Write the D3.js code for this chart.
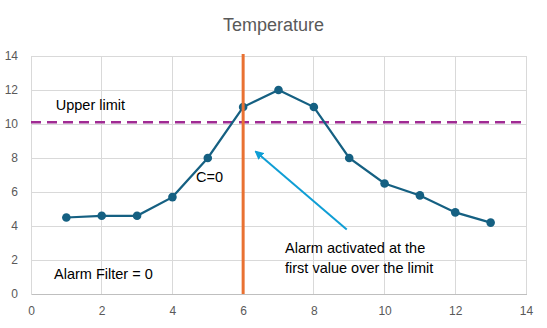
<!DOCTYPE html>
<html>
<head>
<meta charset="utf-8">
<script src="https://cdn.jsdelivr.net/npm/d3@7"></script>
<style>
  html, body { margin: 0; padding: 0; background: #fff; }
  svg { display: block; }
</style>
</head>
<body>
<div id="chart"></div>
<script>
// ---- data ----
const title = "Temperature";
const xValues = [1, 2, 3, 4, 5, 6, 7, 8, 9, 10, 11, 12, 13];
const temperature = [4.5, 4.6, 4.6, 5.7, 8, 11, 12, 11, 8, 6.5, 5.8, 4.8, 4.2];
const xTicks = [0, 2, 4, 6, 8, 10, 12, 14];
const yTicks = [0, 2, 4, 6, 8, 10, 12, 14];
const upperLimit = 10.1;
const alarmX = 6;
const labels = ["Upper limit", "C=0", "Alarm Filter = 0"];
const arrowNote = ["Alarm activated at the", "first value over the limit"];

// ---- layout ----
const W = 547, H = 328;
const m = { left: 31, right: 21, top: 56, bottom: 34 };
const font = "'Liberation Sans', Arial, sans-serif";

const svg = d3.select("#chart").append("svg").attr("width", W).attr("height", H);

const x = d3.scaleLinear().domain([0, 14]).range([m.left, W - m.right]);
const y = d3.scaleLinear().domain([0, 14]).range([H - m.bottom, m.top]);

// title
svg.append("text").attr("x", 273.5).attr("y", 31).attr("text-anchor", "middle")
  .attr("font-family", font).attr("font-size", 18).attr("fill", "#595959").text(title);

// grid
const g = svg.append("g");
g.selectAll(".hg").data(yTicks).join("line")
  .attr("x1", x(0)).attr("x2", x(14)).attr("y1", d => y(d)).attr("y2", d => y(d))
  .attr("stroke", "#D9D9D9").attr("stroke-width", 1).attr("shape-rendering", "crispEdges");
g.selectAll(".vg").data(xTicks).join("line")
  .attr("y1", y(0)).attr("y2", y(14)).attr("x1", d => x(d)).attr("x2", d => x(d))
  .attr("stroke", "#D9D9D9").attr("stroke-width", 1).attr("shape-rendering", "crispEdges");

// axes
const xAxis = svg.append("g").attr("transform", `translate(0,${y(0)})`)
  .call(d3.axisBottom(x).tickValues(xTicks).tickSize(0).tickPadding(12).tickFormat(d3.format("d")));
xAxis.select(".domain").attr("stroke", "#BFBFBF").attr("shape-rendering", "crispEdges");
const yAxis = svg.append("g").attr("transform", `translate(${x(0)},0)`)
  .call(d3.axisLeft(y).tickValues(yTicks).tickSize(0).tickPadding(13).tickFormat(d3.format("d")));
yAxis.select(".domain").remove();
svg.selectAll(".tick text").attr("font-family", font).attr("font-size", 12).attr("fill", "#595959");

// upper limit dashed line
svg.append("line")
  .attr("x1", x(0)).attr("x2", x(14)).attr("y1", y(upperLimit)).attr("y2", y(upperLimit))
  .attr("stroke", "#A02B93").attr("stroke-width", 2.5).attr("stroke-dasharray", "10,6");

// series line
const pts = xValues.map((v, i) => [v, temperature[i]]);
svg.append("path").datum(pts)
  .attr("d", d3.line().x(d => x(d[0])).y(d => y(d[1])))
  .attr("fill", "none").attr("stroke", "#156082").attr("stroke-width", 2.2);
svg.selectAll(".pt").data(pts).join("circle")
  .attr("cx", d => x(d[0])).attr("cy", d => y(d[1])).attr("r", 4.3)
  .attr("fill", "#156082");

// alarm vertical line
svg.append("line")
  .attr("x1", x(alarmX)).attr("x2", x(alarmX)).attr("y1", y(14) - 2).attr("y2", y(0))
  .attr("stroke", "#E97132").attr("stroke-width", 3);

// arrow
const defs = svg.append("defs");
defs.append("marker").attr("id", "ah").attr("viewBox", "0 0 10 10")
  .attr("refX", 8).attr("refY", 5).attr("markerWidth", 4.5).attr("markerHeight", 4.5)
  .attr("orient", "auto").attr("markerUnits", "strokeWidth")
  .append("path").attr("d", "M0,0 L10,5 L0,10 z").attr("fill", "#0F9ED5");
svg.append("line")
  .attr("x1", x(8.93)).attr("y1", y(3.8)).attr("x2", x(6.36)).attr("y2", y(8.37))
  .attr("stroke", "#0F9ED5").attr("stroke-width", 2).attr("marker-end", "url(#ah)");

// annotations
const ann = svg.append("g").attr("font-family", font).attr("font-size", 14.5).attr("fill", "#000");
ann.append("text").attr("x", x(0.7)).attr("y", 110).text(labels[0]);
ann.append("text").attr("x", 196).attr("y", 181.5).text(labels[1]);
ann.append("text").attr("x", 54).attr("y", 279).text(labels[2]);
ann.append("text").attr("x", 285).attr("y", 252.5).text(arrowNote[0]);
ann.append("text").attr("x", 285).attr("y", 272.5).text(arrowNote[1]);
</script>
</body>
</html>
